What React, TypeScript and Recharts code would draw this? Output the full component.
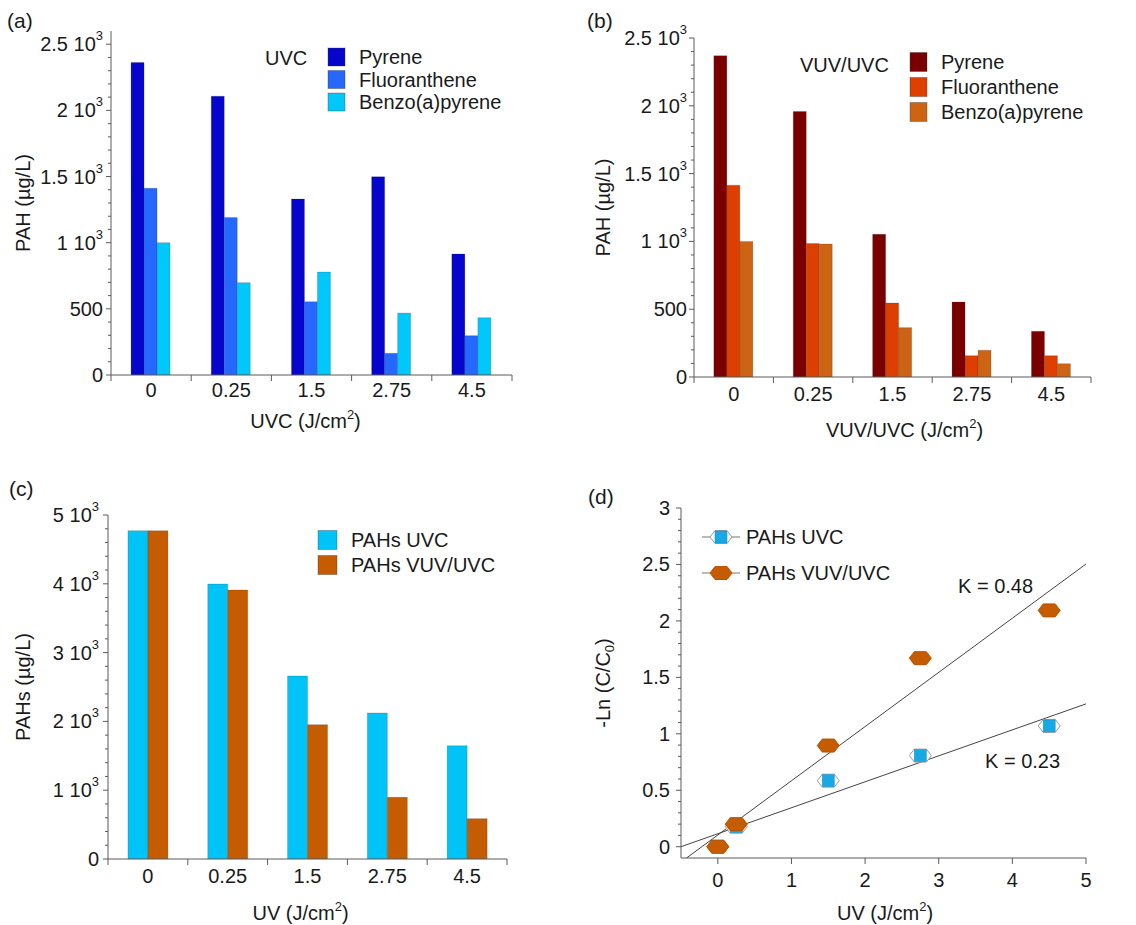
import React from 'react';
import { BarChart, Bar, XAxis, YAxis, Legend, Label, ScatterChart, Scatter, ReferenceLine } from 'recharts';

const FONT = '"Liberation Sans", Arial, sans-serif';
const INK = '#1a1a1a';
const AXIS = '#5a5a5a';
const FS = 20;
const Y_AXIS_W = 100;

// dose categories shared by (a), (b), (c)
const doses = ['0', '0.25', '1.5', '2.75', '4.5'];

// (a) UVC, µg/L
const uvcPyrene = [2362, 2107, 1330, 1498, 914];
const uvcFluoranthene = [1411, 1191, 554, 164, 297];
const uvcBenzo = [1000, 698, 778, 468, 433];

// (b) VUV/UVC, µg/L
const vuvPyrene = [2369, 1958, 1052, 553, 337];
const vuvFluoranthene = [1415, 985, 545, 157, 157];
const vuvBenzo = [1000, 980, 364, 197, 98];

// (c) total PAHs, µg/L
const totalUvc = [4772, 3997, 2660, 2122, 1647];
const totalVuv = [4772, 3910, 1953, 896, 586];

// (d) -Ln(C/C0) vs dose
const uvDose = [0, 0.25, 1.5, 2.75, 4.5];
const lnUvc = [0, 0.177, 0.585, 0.807, 1.07];
const lnVuv = [0, 0.2, 0.896, 1.67, 2.093];
const fitSlope = [0.23, 0.48];
const fitIntercept = [0.115, 0.104];
const kineticsNames = ['PAHs UVC', 'PAHs VUV/UVC'];

// tick labels
const yTicksAB = [0, 500, 1000, 1500, 2000, 2500];
const yLabelsAB = ['0', '500', '1 10^3', '1.5 10^3', '2 10^3', '2.5 10^3'];
const yTicksC = [0, 1000, 2000, 3000, 4000, 5000];
const yLabelsC = ['0', '1 10^3', '2 10^3', '3 10^3', '4 10^3', '5 10^3'];
const yTicksD = [0, 0.5, 1, 1.5, 2, 2.5, 3];
const yLabelsD = ['0', '0.5', '1', '1.5', '2', '2.5', '3'];
const xTicksD = [0, 1, 2, 3, 4, 5];

const rowsA = doses.map((d, i) => ({ dose: d, pyr: uvcPyrene[i], flu: uvcFluoranthene[i], bap: uvcBenzo[i] }));
const rowsB = doses.map((d, i) => ({ dose: d, pyr: vuvPyrene[i], flu: vuvFluoranthene[i], bap: vuvBenzo[i] }));
const rowsC = doses.map((d, i) => ({ dose: d, uvc: totalUvc[i], vuv: totalVuv[i] }));
const ptsUvc = uvDose.map((x, i) => ({ x, y: lnUvc[i] }));
const ptsVuv = uvDose.map((x, i) => ({ x, y: lnVuv[i] }));

const steps = (from: number, to: number, step: number) => {
  const out: number[] = [];
  for (let v = from; v <= to + step / 1000; v += step) out.push(Math.round(v * 1000) / 1000);
  return out;
};

// text with ^x superscripts and _x subscripts
function rich(s: string, fs: number) {
  const parts: React.ReactNode[] = [];
  const re = /([\^_])(\w)/g;
  let last = 0;
  let shift = 0;
  let k = 0;
  let m: RegExpExecArray | null;
  while ((m = re.exec(s))) {
    if (m.index > last) {
      parts.push(<tspan key={k++} dy={-shift}>{s.slice(last, m.index)}</tspan>);
      shift = 0;
    }
    const d = m[1] === '^' ? -0.45 * fs : 0.3 * fs;
    parts.push(<tspan key={k++} dy={d - shift} fontSize={fs * 0.65}>{m[2]}</tspan>);
    shift = d;
    last = m.index + 2;
  }
  if (last < s.length) parts.push(<tspan key={k++} dy={-shift}>{s.slice(last)}</tspan>);
  return parts;
}

const ValTick = (props: any) => {
  const { x, y, payload, majors, labels, gap } = props;
  const idx = majors.findIndex((t: number) => Math.abs(t - payload.value) < 1e-6);
  const major = idx >= 0;
  return (
    <g>
      <line x1={x - (major ? 5 : 3)} x2={x} y1={y} y2={y} stroke={AXIS} />
      {major && (
        <text x={x - gap} y={y} textAnchor="end" dominantBaseline="central" fontSize={FS} fill={INK} fontFamily={FONT}>
          {rich(labels[idx], FS)}
        </text>
      )}
    </g>
  );
};

const CatTick = (props: any) => {
  const { x, y, payload, index, band, count, labelDy } = props;
  return (
    <g>
      <line x1={x - band / 2} x2={x - band / 2} y1={y} y2={y + 6} stroke={AXIS} />
      {index === count - 1 && <line x1={x + band / 2} x2={x + band / 2} y1={y} y2={y + 6} stroke={AXIS} />}
      <text x={x} y={y + labelDy} textAnchor="middle" fontSize={FS} fill={INK} fontFamily={FONT}>
        {payload.value}
      </text>
    </g>
  );
};

const NumTick = (props: any) => {
  const { x, y, payload, labelDy } = props;
  return (
    <g>
      <line x1={x} x2={x} y1={y} y2={y + 6} stroke={AXIS} />
      <text x={x} y={y + labelDy} textAnchor="middle" fontSize={FS} fill={INK} fontFamily={FONT}>
        {payload.value}
      </text>
    </g>
  );
};

const XTitle = ({ vb, text, dx, dy }: any) => (
  <text x={vb.x + vb.width / 2 + dx} y={vb.y + dy} textAnchor="middle" fontSize={FS} fill={INK} fontFamily={FONT}>
    {rich(text, FS)}
  </text>
);

const YTitle = ({ vb, text, dx }: any) => {
  const cx = vb.x + vb.width + dx;
  const cy = vb.y + vb.height / 2;
  return (
    <text x={cx} y={cy} transform={`rotate(-90 ${cx} ${cy})`} textAnchor="middle" dominantBaseline="central"
      fontSize={FS} fill={INK} fontFamily={FONT}>
      {rich(text, FS)}
    </text>
  );
};

const Hex = ({ cx, cy, fill, stroke }: any) => (
  <polygon
    points={`${cx - 11},${cy} ${cx - 6},${cy - 6.5} ${cx + 6},${cy - 6.5} ${cx + 11},${cy} ${cx + 6},${cy + 6.5} ${cx - 6},${cy + 6.5}`}
    fill={fill} stroke={stroke} strokeWidth={1}
  />
);

const UvcMarker = ({ cx, cy }: any) => (
  <g>
    <Hex cx={cx} cy={cy} fill="#fff" stroke="#9a9a9a" />
    <rect x={cx - 6} y={cy - 6} width={12} height={12} fill="#18A8E4" stroke="#1490c8" strokeWidth={0.5} />
  </g>
);

const VuvMarker = ({ cx, cy }: any) => <Hex cx={cx} cy={cy} fill="#C65C02" stroke="#b85200" />;

const SwatchLegend = ({ items, cfg, w, h }: any) => (
  <svg width={w} height={h} style={{ display: 'block' }}>
    {cfg.title && (
      <text x={cfg.titleX} y={cfg.titleY} dominantBaseline="central" fontSize={FS} fill={INK} fontFamily={FONT}>
        {cfg.title}
      </text>
    )}
    {items.map((e: any, i: number) => {
      const cy = cfg.y0 + i * cfg.pitch;
      return (
        <g key={e.name}>
          <rect x={cfg.sx} y={cy - cfg.sh / 2} width={cfg.sw} height={cfg.sh} fill={e.color} stroke="#333" strokeOpacity={0.35} />
          <text x={cfg.lx} y={cy} dominantBaseline="central" fontSize={FS} fill={INK} fontFamily={FONT}>
            {e.name}
          </text>
        </g>
      );
    })}
  </svg>
);

const MarkerLegend = ({ w, h }: any) => (
  <svg width={w} height={h} style={{ display: 'block' }}>
    {kineticsNames.map((name, i) => {
      const cy = 77 + i * 36;
      return (
        <g key={name}>
          <line x1={132} x2={170} y1={cy} y2={cy} stroke="#777" />
          {i === 0 ? <UvcMarker cx={151} cy={cy} /> : <VuvMarker cx={151} cy={cy} />}
          <text x={176} y={cy} dominantBaseline="central" fontSize={FS} fill={INK} fontFamily={FONT}>
            {name}
          </text>
        </g>
      );
    })}
  </svg>
);

function BarPanel(p: any) {
  const plotW = p.width - p.margin.left - p.margin.right - Y_AXIS_W;
  const band = plotW / p.rows.length;
  const minor = steps(0, p.yTicks[p.yTicks.length - 1], p.minorStep);
  return (
    <BarChart width={p.width} height={p.height} data={p.rows} margin={{ ...p.margin, bottom: 0 }} barCategoryGap="25%" barGap={0}>
      <XAxis dataKey="dose" height={p.xAxisH} interval={0} tickSize={0} tickMargin={0} tickLine={false}
        axisLine={{ stroke: AXIS }}
        tick={(tp: any) => <CatTick {...tp} band={band} count={p.rows.length} labelDy={p.tickDy} />}>
        <Label content={(lp: any) => <XTitle vb={lp.viewBox} text={p.xTitle} dx={p.xTitleDx} dy={p.xTitleDy} />} />
      </XAxis>
      <YAxis type="number" width={Y_AXIS_W} domain={[0, p.yMax]} allowDataOverflow ticks={minor} interval={0}
        tickSize={0} tickMargin={0} tickLine={false} axisLine={{ stroke: AXIS }}
        tick={(tp: any) => <ValTick {...tp} majors={p.yTicks} labels={p.yLabels} gap={p.yGap} />}>
        <Label content={(lp: any) => <YTitle vb={lp.viewBox} text={p.yTitle} dx={p.yTitleDx} />} />
      </YAxis>
      <XAxis xAxisId="top" orientation="top" dataKey="dose" height={0} tick={false} tickLine={false} axisLine={{ stroke: AXIS }} />
      <YAxis yAxisId="right" orientation="right" type="number" domain={[0, p.yMax]} width={0} tick={false} tickLine={false}
        axisLine={{ stroke: AXIS }} />
      {p.series.map((s: any) => (
        <Bar key={s.key} dataKey={s.key} name={s.name} fill={s.color} stroke="#222" strokeOpacity={0.3} strokeWidth={0.6}
          isAnimationActive={false} />
      ))}
      <Legend layout="vertical" align="center" verticalAlign="middle"
        wrapperStyle={{ left: 0, top: 0, width: p.width, height: p.height, pointerEvents: 'none' }}
        content={() => <SwatchLegend items={p.series} cfg={p.legend} w={p.width} h={p.height} />} />
    </BarChart>
  );
}

function KineticsPanel() {
  const minor = steps(0, 3, 0.1);
  const seg = (i: number) => [
    { x: -0.5, y: fitSlope[i] * -0.5 + fitIntercept[i] },
    { x: 5, y: fitSlope[i] * 5 + fitIntercept[i] },
  ];
  return (
    <ScatterChart width={566} height={465} margin={{ top: 48, right: 50, bottom: 0, left: 11 }}>
      <XAxis type="number" dataKey="x" domain={[-0.5, 5]} allowDataOverflow ticks={xTicksD} interval={0} height={67}
        tickSize={0} tickMargin={0} tickLine={false} axisLine={{ stroke: AXIS }}
        tick={(tp: any) => <NumTick {...tp} labelDy={29} />}>
        <Label content={(lp: any) => <XTitle vb={lp.viewBox} text="UV (J/cm^2)" dx={1.5} dy={62} />} />
      </XAxis>
      <YAxis type="number" dataKey="y" domain={[-0.1, 3]} allowDataOverflow ticks={minor} interval={0} width={Y_AXIS_W}
        tickSize={0} tickMargin={0} tickLine={false} axisLine={{ stroke: AXIS }}
        tick={(tp: any) => <ValTick {...tp} majors={yTicksD} labels={yLabelsD} gap={11} />}>
        <Label content={(lp: any) => <YTitle vb={lp.viewBox} text="-Ln (C/C_0)" dx={-78} />} />
      </YAxis>
      <XAxis xAxisId="top" orientation="top" type="number" domain={[-0.5, 5]} allowDataOverflow height={0} tick={false}
        tickLine={false} axisLine={{ stroke: AXIS }} />
      <YAxis yAxisId="right" orientation="right" type="number" domain={[-0.1, 3]} allowDataOverflow width={0} tick={false}
        tickLine={false} axisLine={{ stroke: AXIS }} />
      <ReferenceLine segment={seg(1)} ifOverflow="hidden" stroke="#444" strokeWidth={1} />
      <ReferenceLine segment={seg(0)} ifOverflow="hidden" stroke="#444" strokeWidth={1} />
      <Scatter name={kineticsNames[0]} data={ptsUvc} fill="#18A8E4" shape={(sp: any) => <UvcMarker cx={sp.cx} cy={sp.cy} />}
        isAnimationActive={false} />
      <Scatter name={kineticsNames[1]} data={ptsVuv} fill="#C65C02" shape={(sp: any) => <VuvMarker cx={sp.cx} cy={sp.cy} />}
        isAnimationActive={false} />
      <Legend layout="vertical" align="center" verticalAlign="middle"
        wrapperStyle={{ left: 0, top: 0, width: 566, height: 465, pointerEvents: 'none' }}
        content={() => <MarkerLegend w={566} h={465} />} />
    </ScatterChart>
  );
}

const pos = (left: number, top: number): React.CSSProperties => ({ position: 'absolute', left, top });

export default function App() {
  return (
    <div style={{ position: 'absolute', left: 0, top: 0, width: 1136, height: 925, background: '#fff', fontFamily: FONT, overflow: 'hidden' }}>
      <div style={pos(0, 0)}>
        <BarPanel width={570} height={460} margin={{ top: 31, right: 58, left: 11 }} xAxisH={85} rows={rowsA}
          yMax={2600} yTicks={yTicksAB} yLabels={yLabelsAB} minorStep={100} yGap={8} tickDy={22}
          xTitle="UVC (J/cm^2)" xTitleDx={-6} xTitleDy={53} yTitle="PAH (µg/L)" yTitleDx={-88}
          series={[
            { key: 'pyr', name: 'Pyrene', color: '#0505CC' },
            { key: 'flu', name: 'Fluoranthene', color: '#2468FF' },
            { key: 'bap', name: 'Benzo(a)pyrene', color: '#00C8FA' },
          ]}
          legend={{ title: 'UVC', titleX: 265, titleY: 58, sx: 328, sw: 17, sh: 18, lx: 359, y0: 57, pitch: 22.5 }} />
      </div>
      <div style={pos(570, 0)}>
        <BarPanel width={566} height={460} margin={{ top: 38, right: 45, left: 24 }} xAxisH={83} rows={rowsB}
          yMax={2500} yTicks={yTicksAB} yLabels={yLabelsAB} minorStep={100} yGap={7} tickDy={24}
          xTitle="VUV/UVC (J/cm^2)" xTitleDx={12} xTitleDy={60} yTitle="PAH (µg/L)" yTitleDx={-91}
          series={[
            { key: 'pyr', name: 'Pyrene', color: '#7A0000' },
            { key: 'flu', name: 'Fluoranthene', color: '#DD3F00' },
            { key: 'bap', name: 'Benzo(a)pyrene', color: '#CC6414' },
          ]}
          legend={{ title: 'VUV/UVC', titleX: 230, titleY: 65, sx: 340, sw: 17, sh: 19, lx: 371, y0: 62, pitch: 25 }} />
      </div>
      <div style={pos(0, 460)}>
        <BarPanel width={570} height={465} margin={{ top: 55, right: 63, left: 8 }} xAxisH={66} rows={rowsC}
          yMax={5000} yTicks={yTicksC} yLabels={yLabelsC} minorStep={200} yGap={9} tickDy={24}
          xTitle="UV (J/cm^2)" xTitleDx={-7} xTitleDy={61} yTitle="PAHs (µg/L)" yTitleDx={-85}
          series={[
            { key: 'uvc', name: 'PAHs UVC', color: '#00C4F8' },
            { key: 'vuv', name: 'PAHs VUV/UVC', color: '#C65C02' },
          ]}
          legend={{ sx: 318, sw: 19, sh: 19, lx: 351, y0: 80, pitch: 25 }} />
      </div>
      <div style={pos(570, 460)}>
        <KineticsPanel />
      </div>
      <svg width={1136} height={925} style={{ position: 'absolute', left: 0, top: 0, pointerEvents: 'none' }}>
        <g fontFamily={FONT} fontSize={21} fill={INK}>
          <text x={7} y={28}>(a)</text>
          <text x={587} y={28}>(b)</text>
          <text x={9} y={496}>(c)</text>
          <text x={588} y={504}>(d)</text>
          <text x={958} y={593} fontSize={FS}>K = 0.48</text>
          <text x={985} y={768} fontSize={FS}>K = 0.23</text>
        </g>
      </svg>
    </div>
  );
}
